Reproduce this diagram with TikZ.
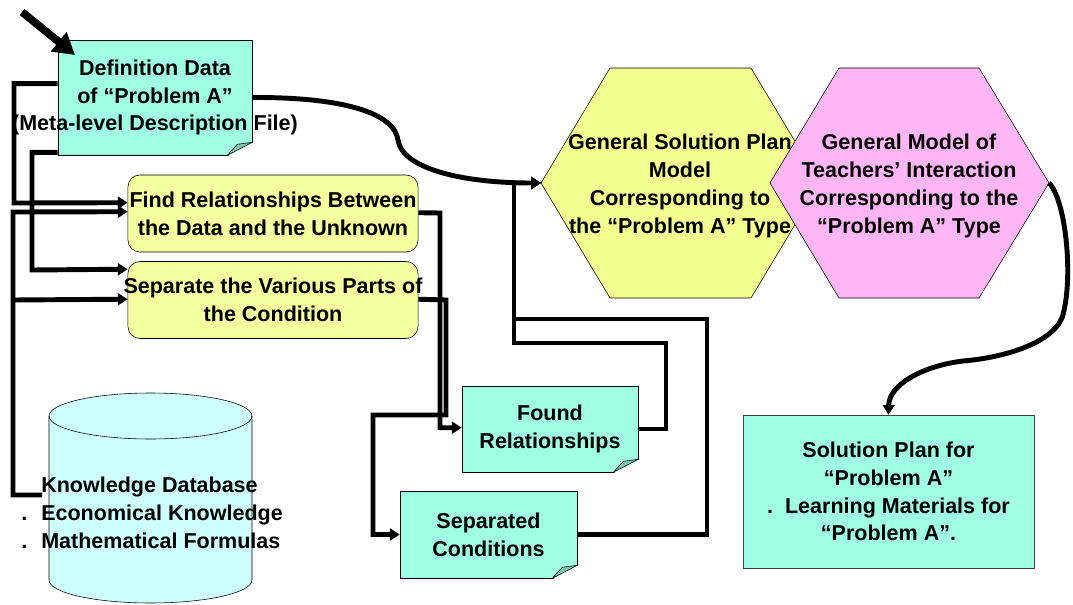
\documentclass[tikz,border=0pt]{standalone}
\usepackage{fontspec}
\setmainfont{Liberation Sans}
\usetikzlibrary{arrows.meta, calc}

\definecolor{docgreen}{RGB}{160,255,226}
\definecolor{folddark}{RGB}{120,200,180}
\definecolor{boxyellow}{RGB}{245,255,160}
\definecolor{hexyellow}{RGB}{243,255,145}
\definecolor{hexpink}{RGB}{255,182,245}
\definecolor{cylcyan}{RGB}{206,255,255}

\newcommand{\boxfont}{\fontsize{15.3}{19.8}\selectfont\bfseries}

% dog-ear at the lower right corner of a document node
\newcommand{\docfold}[1]{%
  \fill[white] ($(#1.south east)+(1,13)$) -- ($(#1.south east)+(1,-1)$) -- ($(#1.south east)+(-25,-1)$) -- cycle;
  \filldraw[fill=folddark, draw=black, thin] ($(#1.south east)+(0,13)$) -- ($(#1.south east)+(-25,0)$) -- ($(#1.south east)+(-15,11)$) -- cycle;
}

\tikzset{
  docnode/.style={draw=black, thin, fill=docgreen, inner sep=0pt, align=center, font=\boxfont},
  taskbox/.style={draw=black, thin, fill=boxyellow, rounded corners=8.5pt, inner sep=0pt, align=center,
    minimum width=7.25cm, minimum height=1.925cm, font=\boxfont},
  hexline/.style={draw=black, thin},
  hextext/.style={align=center, inner sep=0pt, font=\boxfont},
  conn/.style={line width=3.5pt, -{Triangle[length=7pt,width=8.5pt]}},
  bigarrow/.style={line width=5.5pt, -{Triangle[length=15pt,width=17pt]}}
}

\begin{document}
\begin{tikzpicture}[x=0.025cm, y=0.025cm]
    \useasboundingbox (0,0) rectangle (1073,-605);

    % knowledge database
    \filldraw[fill=cylcyan, draw=black, thin] (49,-416) -- (49,-580) arc[start angle=180, end angle=360, x radius=101.5, y radius=23]
        -- (252,-416) arc[start angle=0, end angle=180, x radius=101.5, y radius=23] -- cycle;
    \draw[thin] (49,-416) arc[start angle=180, end angle=360, x radius=101.5, y radius=23];
    \node[anchor=west, align=left, inner sep=0pt, font=\boxfont] (kb) at (21,-513)
        {\makebox[0.5cm][l]{}Knowledge Database\\\makebox[0.5cm][l]{.}Economical Knowledge\\\makebox[0.5cm][l]{.}Mathematical Formulas};
    \coordinate (kbout) at (42,-495);

    % hexagons
    \filldraw[hexline, fill=hexyellow] (541,-183) -- (610,-68) -- (751,-68) -- (820,-183) -- (751,-298) -- (610,-298) -- cycle;
    \filldraw[hexline, fill=hexpink] (770,-183) -- (839,-68) -- (979,-68) -- (1049,-183) -- (979,-298) -- (839,-298) -- cycle;
    \coordinate (gspin) at (541,-183);
    \coordinate (gmtout) at (1049,-183);
    \node[hextext] (gsp) at (680,-186) {General Solution Plan\\Model\\Corresponding to\\the “Problem A” Type};
    \node[hextext] (gmt) at (909,-186) {General Model of\\Teachers’ Interaction\\Corresponding to the\\“Problem A” Type};

    % documents and task boxes
    \node[docnode, minimum width=4.85cm, minimum height=2.875cm] (def) at (155,-97.5)
        {Definition Data\\of “Problem A”\\\makebox[0pt]{(Meta-level Description File)}};
    \docfold{def}
    \node[taskbox] (find) at (273,-213.5) {Find Relationships Between\\the Data and the Unknown};
    \node[taskbox] (separate) at (273,-300) {\makebox[0pt]{Separate the Various Parts of}\\the Condition};
    \node[docnode, minimum width=4.4cm, minimum height=2.15cm] (found) at (550,-429) {Found\\Relationships};
    \docfold{found}
    \node[docnode, minimum width=4.425cm, minimum height=2.175cm] (sepcond) at (488.5,-534.5) {Separated\\Conditions};
    \docfold{sepcond}
    \node[docnode, draw=black!75, minimum width=7.275cm, minimum height=3.825cm] (plan) at (888.5,-491.5)
        {Solution Plan for\\“Problem A”\\.\ \ Learning Materials for\\“Problem A”.};

    % input arrow
    \coordinate (start) at (22,-12);
    \coordinate (defin) at (75,-55);
    \draw[bigarrow] (start) -- (defin);

    % connectors
    \draw[conn] ($(def.north west)+(0,-44)$) -| (14,-203) -- ($(find.north west)+(0,-28)$);
    \draw[conn] ($(def.south west)+(0,3)$) -| (32,-270) -- ($(separate.north west)+(0,-8)$);
    \draw[conn] (kbout) -| (13,-212) -- ($(find.north west)+(0,-37)$);
    \draw[conn] (13,-300) -- ($(separate.north west)+(0,-38)$);
    \draw[conn] ($(find.north east)+(0,-38)$) -- (440,-213) |- ($(found.north west)+(0,-42)$);
    \draw[conn] ($(separate.north east)+(0,-38)$) -- (446,-300) -- (446,-415) -- (373,-415) |- (sepcond.west);
    \draw[conn] (found.east) -- (666,-429) |- (514,-343) -- (514,-183) -- (gspin);
    \draw[conn] (sepcond.east) -- (707,-534.5) |- (514,-319) -- (514,-183) -- (gspin);
    \draw[conn] (def.east) .. controls (340,-97) and (394,-112) .. (398,-140)
        .. controls (402,-168) and (460,-183) .. (gspin);
    \draw[conn] (gmtout) .. controls (1066,-200) and (1074,-280) .. (1062,-318)
        .. controls (1050,-345) and (1000,-358) .. (963,-361)
        .. controls (922,-366) and (889,-385) .. (plan.north);
\end{tikzpicture}
\end{document}
